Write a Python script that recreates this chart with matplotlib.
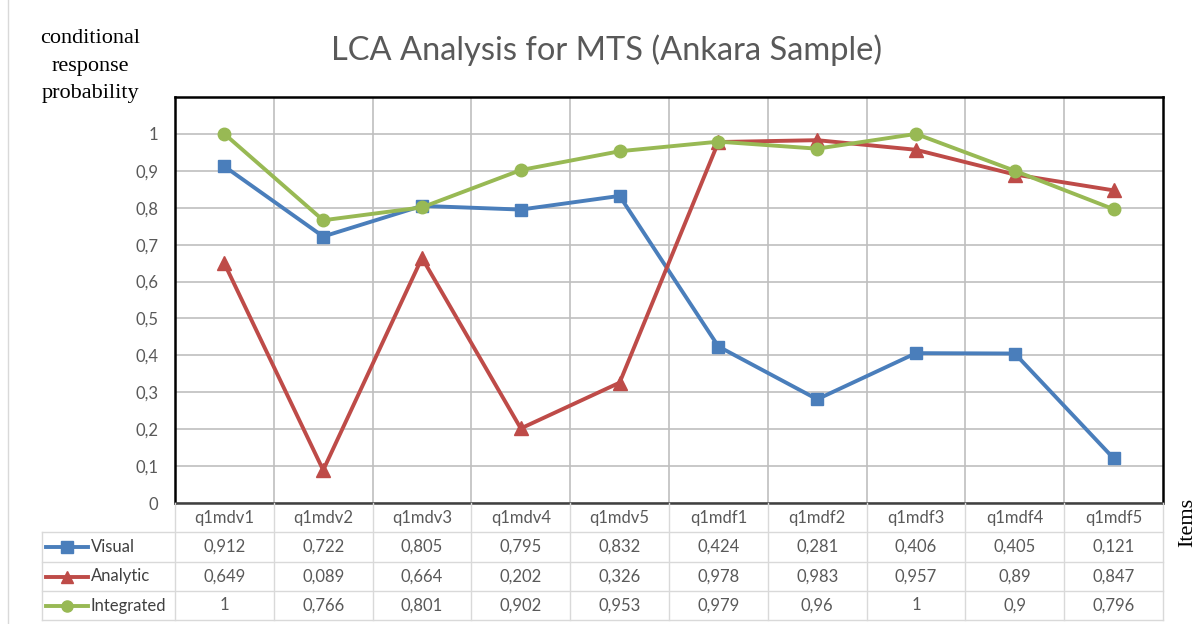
import numpy as np
import matplotlib.pyplot as plt
from matplotlib.lines import Line2D
from matplotlib.transforms import blended_transform_factory

items = ["q1mdv1", "q1mdv2", "q1mdv3", "q1mdv4", "q1mdv5",
         "q1mdf1", "q1mdf2", "q1mdf3", "q1mdf4", "q1mdf5"]
visual = [0.912, 0.722, 0.805, 0.795, 0.832, 0.424, 0.281, 0.406, 0.405, 0.121]
analytic = [0.649, 0.089, 0.664, 0.202, 0.326, 0.978, 0.983, 0.957, 0.89, 0.847]
integrated = [1, 0.766, 0.801, 0.902, 0.953, 0.979, 0.96, 1, 0.9, 0.796]
series_names = ["Visual", "Analytic", "Integrated"]

colors = ["#4a7ebb", "#be4b48", "#98b954"]
markers = ["s", "^", "o"]
msizes = [9, 10, 9]

W, H = 1203, 624
GRID = "#bfbfbf"
TXT = "#595959"
TBL = "#d9d9d9"
sans = ["Lato", "DejaVu Sans"]
serif = ["Liberation Serif", "DejaVu Serif"]


def fc(x, y):
    """pixel position -> figure fraction"""
    return x / W, 1 - y / H


def comma(v):
    return f"{v:g}".replace(".", ",")


fig = plt.figure(figsize=(W / 100, H / 100), dpi=100)
ax = fig.add_axes([175 / W, 1 - 503 / H, (1163 - 175) / W, (503 - 97) / H])

x = np.arange(len(items))
all_series = [visual, analytic, integrated]
for vals, c, m, ms in zip(all_series, colors, markers, msizes):
    ax.plot(x, vals, color=c, lw=2.8, marker=m, markersize=ms, zorder=3)

ax.set_xlim(-0.5, len(items) - 0.5)
ax.set_ylim(0, 1.1)
yt = np.round(np.arange(0, 1.01, 0.1), 1)
ax.set_yticks(yt)
ax.set_yticklabels([comma(v) for v in yt], fontsize=12, color=TXT, family=sans)
ax.set_xticks([])
ax.set_xticks(np.arange(0.5, len(items) - 1, 1), minor=True)
ax.tick_params(axis="both", which="both", length=0)
ax.tick_params(axis="y", pad=12)
ax.grid(axis="y", color=GRID, lw=1.2)
ax.grid(axis="x", which="minor", color=GRID, lw=1.2)
ax.set_axisbelow(True)
for s in ax.spines.values():
    s.set_color("black")
    s.set_linewidth(1.8)
ax.spines["bottom"].set_color("#404040")

# data table under the axes
tr = blended_transform_factory(ax.transData, fig.transFigure)
row_edges = [503, 532, 562, 591, 620]
x_left_tbl = 42 / W
x_right = ax.get_position().x1

for k in range(len(items) + 1):
    fig.add_artist(Line2D([k - 0.5, k - 0.5], [1 - 503 / H, 1 - 620 / H],
                          transform=tr, color=TBL, lw=1))
fig.add_artist(Line2D([x_left_tbl, x_left_tbl], [1 - 532 / H, 1 - 620 / H],
                      color=TBL, lw=1))
for yy in row_edges[1:]:
    fig.add_artist(Line2D([x_left_tbl, x_right], [1 - yy / H, 1 - yy / H],
                          color=TBL, lw=1))

hdr_y = 1 - (row_edges[0] + row_edges[1]) / 2 / H
for i, name in enumerate(items):
    fig.text(i, hdr_y, name, transform=tr, ha="center", va="center",
             fontsize=12, color=TXT, family=sans)

for r, (name, vals, c, m, ms) in enumerate(zip(series_names, all_series, colors, markers, msizes)):
    yc = 1 - (row_edges[r + 1] + row_edges[r + 2]) / 2 / H
    for i, v in enumerate(vals):
        fig.text(i, yc, comma(v), transform=tr, ha="center", va="center",
                 fontsize=12, color=TXT, family=sans)
    fig.add_artist(Line2D([46 / W, 88 / W], [yc, yc], color=c, lw=2.8))
    fig.add_artist(Line2D([67 / W], [yc], color=c, marker=m, markersize=ms - 1, lw=0))
    fig.text(91 / W, yc, name, ha="left", va="center", fontsize=12,
             color="#404040", family=sans)

# titles and axis labels
fig.text(*fc(607, 50), "LCA Analysis for MTS (Ankara Sample)", ha="center",
         va="center", fontsize=23.5, color=TXT, family=sans)
fig.text(*fc(90, 66), "conditional\nresponse\nprobability", ha="center",
         va="center", fontsize=16, linespacing=1.6, color="black", family=serif)
fig.text(*fc(1188, 522), "Items", ha="center", va="center", rotation=90,
         fontsize=16, color="black", family=serif)

# chart frame edge on the left
fig.add_artist(Line2D([7.5 / W, 7.5 / W], [0, 1], color=TBL, lw=1))

fig.savefig("out.png", dpi=100)
